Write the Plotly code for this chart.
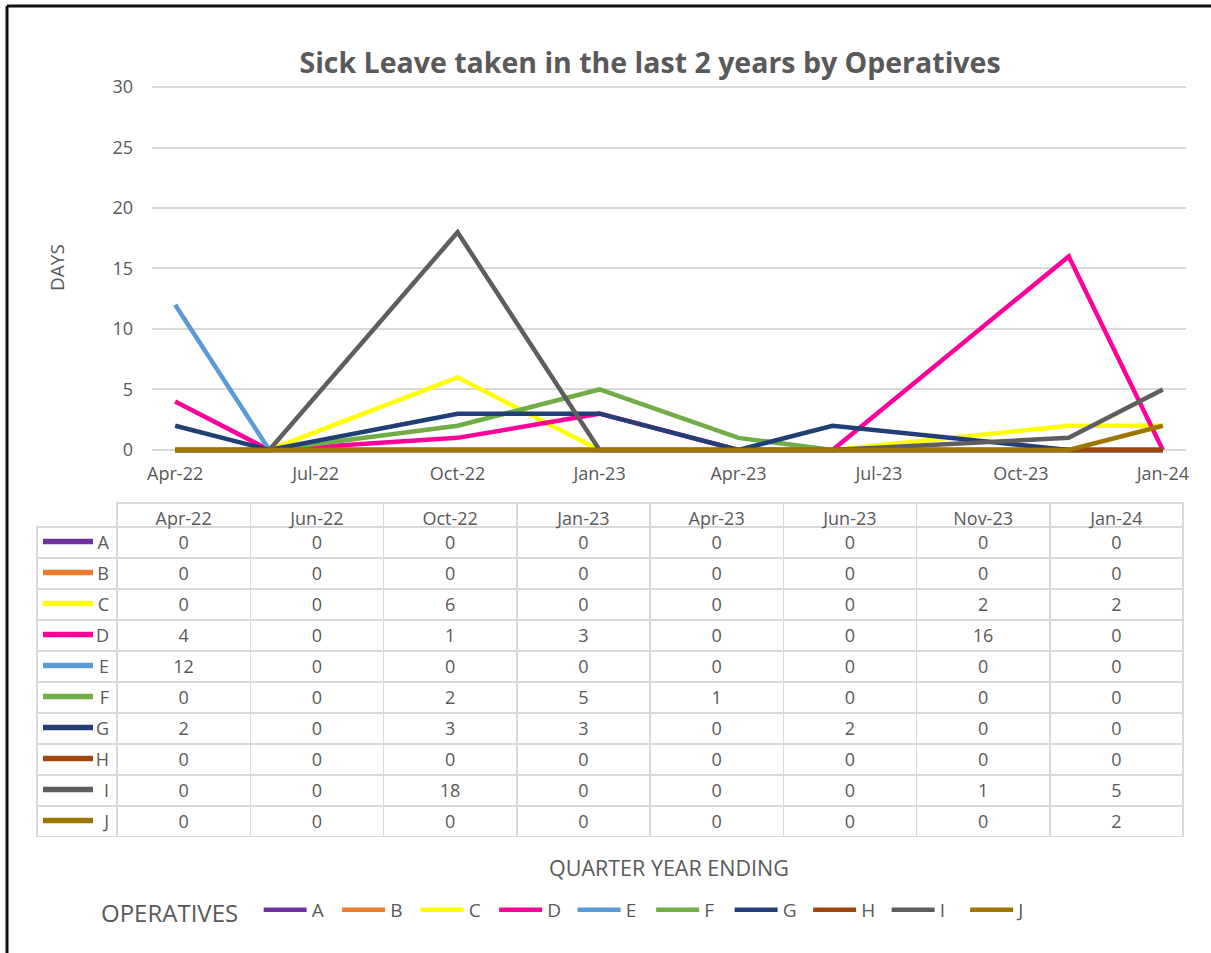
import plotly.graph_objects as go

# Quarter-end months and sick days per operative
months = ["2022-04-01", "2022-06-01", "2022-10-01", "2023-01-01",
          "2023-04-01", "2023-06-01", "2023-11-01", "2024-01-01"]
month_labels = ["Apr-22", "Jun-22", "Oct-22", "Jan-23", "Apr-23", "Jun-23", "Nov-23", "Jan-24"]

operatives = ["A", "B", "C", "D", "E", "F", "G", "H", "I", "J"]
days_A = [0, 0, 0, 0, 0, 0, 0, 0]
days_B = [0, 0, 0, 0, 0, 0, 0, 0]
days_C = [0, 0, 6, 0, 0, 0, 2, 2]
days_D = [4, 0, 1, 3, 0, 0, 16, 0]
days_E = [12, 0, 0, 0, 0, 0, 0, 0]
days_F = [0, 0, 2, 5, 1, 0, 0, 0]
days_G = [2, 0, 3, 3, 0, 2, 0, 0]
days_H = [0, 0, 0, 0, 0, 0, 0, 0]
days_I = [0, 0, 18, 0, 0, 0, 1, 5]
days_J = [0, 0, 0, 0, 0, 0, 0, 2]

axis_ticks = ["2022-04-01", "2022-07-01", "2022-10-01", "2023-01-01",
              "2023-04-01", "2023-07-01", "2023-10-01", "2024-01-01"]
y_ticks = [0, 5, 10, 15, 20, 25, 30]

series = [days_A, days_B, days_C, days_D, days_E, days_F, days_G, days_H, days_I, days_J]
colors = ["#7030A0", "#ED7D31", "#FFFF00", "#FF0099", "#5B9BD5",
          "#70AD47", "#1F3F75", "#A0460E", "#5E5E5E", "#9C7600"]

W, H = 1211, 953
TXT = "#595959"
GRID = "#D9D9D9"
FONT = "Open Sans"


def px_x(p):
    return p / W


def px_y(p):
    return 1 - p / H


fig = go.Figure()

for name, vals, col in zip(operatives, series, colors):
    fig.add_trace(go.Scatter(
        x=months, y=vals, name=name, mode="lines",
        line=dict(color=col, width=4.5),
        hoverinfo="x+y+name",
    ))

# Data table under the chart
header_vals = [""] + month_labels
cell_cols = [operatives] + [[s[j] for s in series] for j in range(len(month_labels))]
fig.add_trace(go.Table(
    domain=dict(x=[px_x(37), px_x(1183)], y=[px_y(837), px_y(503)]),
    columnwidth=[80] + [133.25] * len(month_labels),
    header=dict(
        values=header_vals,
        height=24,
        align="center",
        font=dict(family=FONT, size=18, color=TXT),
        fill=dict(color="rgba(0,0,0,0)"),
        line=dict(color=["rgba(0,0,0,0)"] + [GRID] * len(month_labels), width=1.5),
    ),
    cells=dict(
        values=cell_cols,
        height=31,
        align=["right"] + ["center"] * len(month_labels),
        font=dict(family=FONT, size=18, color=TXT),
        fill=dict(color="rgba(0,0,0,0)"),
        line=dict(color=GRID, width=1.5),
    ),
))

shapes = []
# legend keys inside the table's first column
for i, col in enumerate(colors):
    yc = 526 + 31 * i + 15.5
    shapes.append(dict(type="line", xref="paper", yref="paper",
                       x0=px_x(43), x1=px_x(93), y0=px_y(yc), y1=px_y(yc),
                       line=dict(color=col, width=5.5), layer="above"))
# frame on the left and top edges
shapes.append(dict(type="line", xref="paper", yref="paper",
                   x0=px_x(7), x1=px_x(7), y0=0, y1=px_y(6),
                   line=dict(color="#111111", width=3)))
shapes.append(dict(type="line", xref="paper", yref="paper",
                   x0=px_x(7), x1=1, y0=px_y(6), y1=px_y(6),
                   line=dict(color="#111111", width=3)))

fig.update_layout(
    width=W, height=H,
    margin=dict(l=0, r=0, t=0, b=0, autoexpand=False),
    paper_bgcolor="white", plot_bgcolor="white",
    font=dict(family=FONT, color=TXT, size=18),
    title=dict(text="<b>Sick Leave taken in the last 2 years by Operatives</b>",
               x=px_x(650), xanchor="center", y=px_y(63), yanchor="middle",
               font=dict(family=FONT, size=28.5, color=TXT)),
    xaxis=dict(
        type="date",
        domain=[px_x(152), px_x(1186)],
        range=["2022-03-17", "2024-01-16"],
        tickvals=axis_ticks, tickformat="%b-%y",
        showgrid=False, zeroline=False, showline=False,
        ticks="", ticklabelstandoff=6, automargin=False,
        tickfont=dict(family=FONT, size=18, color=TXT),
    ),
    yaxis=dict(
        domain=[px_y(454.8), px_y(84)],
        range=[-0.4, 30.25],
        tickvals=y_ticks,
        showgrid=True, gridcolor=GRID, gridwidth=1.5,
        zeroline=False, showline=False,
        ticks="", ticklabelstandoff=18, automargin=False,
        tickfont=dict(family=FONT, size=18, color=TXT),
    ),
    showlegend=True,
    legend=dict(
        orientation="h", x=px_x(99), xanchor="left",
        y=px_y(912), yanchor="middle",
        title=dict(text="OPERATIVES&nbsp;&nbsp;", side="left",
                   font=dict(family=FONT, size=24, color=TXT)),
        font=dict(family=FONT, size=19, color=TXT),
        entrywidth=20.5, entrywidthmode="pixels",
        itemwidth=43, traceorder="normal",
    ),
    annotations=[
        dict(text="DAYS", xref="paper", yref="paper", x=px_x(57), y=px_y(268),
             textangle=-90, showarrow=False, xanchor="center", yanchor="middle",
             font=dict(family=FONT, size=19, color=TXT)),
        dict(text="QUARTER YEAR ENDING", xref="paper", yref="paper",
             x=px_x(669), y=px_y(867), showarrow=False,
             xanchor="center", yanchor="middle",
             font=dict(family=FONT, size=21.5, color=TXT)),
    ],
    shapes=shapes,
)

fig.write_html("out.html")
